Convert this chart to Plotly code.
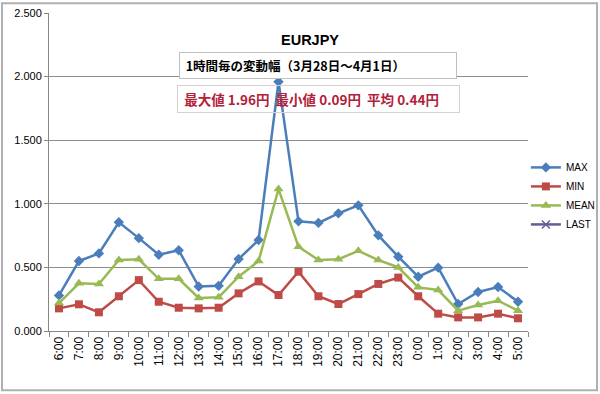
import plotly.graph_objects as go

hours = ["6:00", "7:00", "8:00", "9:00", "10:00", "11:00", "12:00", "13:00", "14:00",
         "15:00", "16:00", "17:00", "18:00", "19:00", "20:00", "21:00", "22:00", "23:00",
         "0:00", "1:00", "2:00", "3:00", "4:00", "5:00"]
max_vals = [0.28, 0.55, 0.61, 0.855, 0.73, 0.60, 0.635, 0.35, 0.355, 0.566, 0.715, 1.96,
            0.862, 0.85, 0.925, 0.988, 0.752, 0.584, 0.427, 0.498, 0.212, 0.307, 0.346, 0.23]
min_vals = [0.178, 0.21, 0.147, 0.273, 0.40, 0.23, 0.183, 0.178, 0.183, 0.296, 0.39, 0.283,
            0.466, 0.273, 0.212, 0.29, 0.37, 0.42, 0.273, 0.136, 0.107, 0.107, 0.136, 0.10]
mean_vals = [0.22, 0.375, 0.37, 0.558, 0.564, 0.41, 0.41, 0.26, 0.265, 0.427, 0.55, 1.116,
             0.663, 0.558, 0.564, 0.63, 0.558, 0.50, 0.343, 0.322, 0.16, 0.204, 0.238, 0.16]
last_vals = [None] * len(hours)

y_ticks = [0, 0.5, 1.0, 1.5, 2.0, 2.5]

fig = go.Figure()
fig.add_trace(go.Scatter(x=hours, y=max_vals, name="MAX", mode="lines+markers",
                         line=dict(color="#4A7EBB", width=2.5),
                         marker=dict(symbol="diamond", size=8, color="#4A7EBB")))
fig.add_trace(go.Scatter(x=hours, y=min_vals, name="MIN", mode="lines+markers",
                         line=dict(color="#BE4B48", width=2.5),
                         marker=dict(symbol="square", size=8, color="#BE4B48")))
fig.add_trace(go.Scatter(x=hours, y=mean_vals, name="MEAN", mode="lines+markers",
                         line=dict(color="#98B954", width=2.5),
                         marker=dict(symbol="triangle-up", size=9, color="#98B954")))
fig.add_trace(go.Scatter(x=hours, y=last_vals, name="LAST", mode="lines+markers",
                         line=dict(color="#6A5A92", width=2.5),
                         marker=dict(symbol="x-thin", size=8, color="#6A5A92",
                                     line=dict(color="#6A5A92", width=1.5))))

fig.update_layout(
    width=600, height=394,
    margin=dict(l=49, r=0, t=13, b=63, autoexpand=False),
    paper_bgcolor="white", plot_bgcolor="white",
    font=dict(family="Noto Sans CJK JP, Arial", color="#000000", size=11),
    showlegend=True,
    legend=dict(x=0.8655, y=0.56, xanchor="left", yanchor="top",
                font=dict(size=10, family="Arial"), bgcolor="rgba(0,0,0,0)",
                tracegroupgap=0, itemwidth=30),
    xaxis=dict(type="category", domain=[0, 479 / 551], automargin=False,
               showgrid=False, showline=True, linecolor="#868686",
               ticks="outside", ticklen=5, tickcolor="#868686", tickson="boundaries",
               tickangle=-90, tickfont=dict(size=12, family="Arial"),
               range=[-0.5, len(hours) - 0.5]),
    yaxis=dict(range=[0, 2.5], tickvals=y_ticks, tickformat=",.3f", automargin=False,
               ticklabeloverflow="allow",
               showgrid=True, gridcolor="#8C8C8C", gridwidth=1,
               showline=True, linecolor="#868686", ticks="outside", ticklen=4,
               tickcolor="#868686", tickfont=dict(size=11, family="Arial"),
               zeroline=False),
)

fig.add_shape(type="rect", xref="paper", yref="paper",
              x0=-0.0853, x1=0.9946, y0=-0.186, y1=1.031,
              line=dict(color="#B0B0B0", width=2), fillcolor="rgba(0,0,0,0)", layer="below")

fig.add_annotation(xref="paper", yref="paper", x=0.4737, y=0.915, showarrow=False,
                   xanchor="center", yanchor="middle",
                   text="<b>EURJPY</b>", font=dict(size=14.5, family="Arial"))
fig.add_annotation(xref="paper", yref="paper", x=0.488, y=0.835, showarrow=False,
                   xanchor="center", yanchor="middle",
                   text="<b>&nbsp;&nbsp;1時間毎の変動幅（3月28日～4月1日）</b>", align="left",
                   font=dict(size=12.5, family="Noto Sans CJK JP"),
                   bgcolor="white", bordercolor="#BFBFBF", borderwidth=1, borderpad=0,
                   width=276, height=25)
fig.add_annotation(xref="paper", yref="paper", x=0.490, y=0.731, showarrow=False,
                   xanchor="center", yanchor="middle",
                   text="<b>&nbsp;&nbsp;最大値 1.96円  最小値 0.09円  平均 0.44円</b>",
                   align="left",
                   font=dict(size=13.5, family="Noto Sans CJK JP", color="#B2213A"),
                   bgcolor="rgba(255,255,255,0)", bordercolor="#D9D0D0", borderwidth=1,
                   borderpad=0, width=281, height=26)

fig.write_html("out.html", config={"displayModeBar": False},
               post_script="document.body.style.margin='0';")
